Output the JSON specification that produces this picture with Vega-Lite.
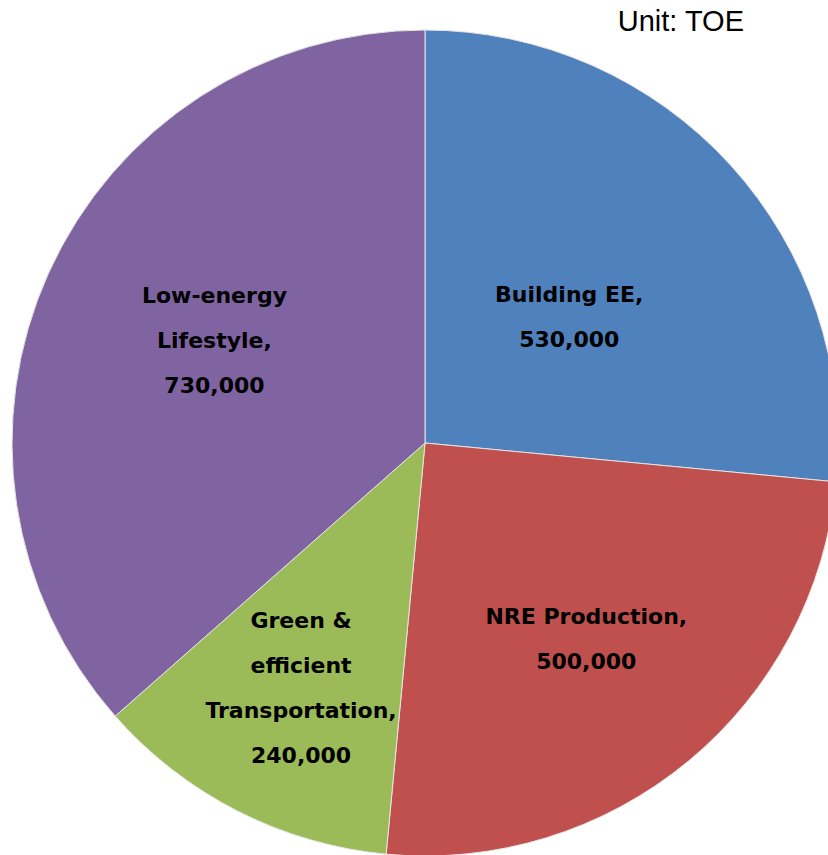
{
  "$schema": "https://vega.github.io/schema/vega-lite/v6.json",
  "width": 850,
  "height": 886,
  "autosize": {"type": "none"},
  "padding": 0,
  "background": "white",
  "view": {"stroke": null},
  "title": {
    "text": "Unit: TOE",
    "orient": "top",
    "anchor": "end",
    "frame": "group",
    "offset": -60,
    "dx": -106,
    "baseline": "alphabetic",
    "font": "Liberation Sans",
    "fontSize": 29,
    "fontWeight": "normal",
    "color": "black"
  },
  "data": {
    "values": [
      {"cat": "Building EE", "value": 530000, "order": 1, "label": "Building EE,\n530,000"},
      {"cat": "NRE Production", "value": 500000, "order": 2, "label": "NRE Production,\n500,000"},
      {"cat": "Green & efficient Transportation", "value": 240000, "order": 3, "label": "Green &\nefficient\nTransportation,\n240,000"},
      {"cat": "Low-energy Lifestyle", "value": 730000, "order": 4, "label": "Low-energy\nLifestyle,\n730,000"}
    ]
  },
  "encoding": {
    "theta": {"field": "value", "type": "quantitative", "stack": true},
    "order": {"field": "order", "type": "quantitative"}
  },
  "layer": [
    {
      "mark": {"type": "arc", "outerRadius": 413, "stroke": "#e4e4e4", "strokeWidth": 1},
      "encoding": {
        "color": {
          "field": "cat",
          "type": "nominal",
          "scale": {
            "domain": ["Building EE", "NRE Production", "Green & efficient Transportation", "Low-energy Lifestyle"],
            "range": ["#4F81BD", "#C0504D", "#9BBB59", "#8064A2"]
          },
          "legend": null
        }
      }
    },
    {
      "mark": {"type": "text", "radius": 195, "dy": -17, "font": "DejaVu Sans", "fontSize": 22, "fontWeight": "bold", "color": "black", "lineBreak": "\n", "lineHeight": 45, "align": "center", "baseline": "middle"},
      "encoding": {
        "detail": {"field": "cat", "type": "nominal"},
        "text": {"condition": {"test": "datum.cat === 'Building EE'", "field": "label"}, "value": ""}
      }
    },
    {
      "mark": {"type": "text", "radius": 253, "dy": -21, "font": "DejaVu Sans", "fontSize": 22, "fontWeight": "bold", "color": "black", "lineBreak": "\n", "lineHeight": 45, "align": "center", "baseline": "middle"},
      "encoding": {
        "detail": {"field": "cat", "type": "nominal"},
        "text": {"condition": {"test": "datum.cat === 'NRE Production'", "field": "label"}, "value": ""}
      }
    },
    {
      "mark": {"type": "text", "radius": 273, "dy": -65, "font": "DejaVu Sans", "fontSize": 22, "fontWeight": "bold", "color": "black", "lineBreak": "\n", "lineHeight": 45, "align": "center", "baseline": "middle"},
      "encoding": {
        "detail": {"field": "cat", "type": "nominal"},
        "text": {"condition": {"test": "datum.cat === 'Green & efficient Transportation'", "field": "label"}, "value": ""}
      }
    },
    {
      "mark": {"type": "text", "radius": 231, "dy": -52, "font": "DejaVu Sans", "fontSize": 22, "fontWeight": "bold", "color": "black", "lineBreak": "\n", "lineHeight": 45, "align": "center", "baseline": "middle"},
      "encoding": {
        "detail": {"field": "cat", "type": "nominal"},
        "text": {"condition": {"test": "datum.cat === 'Low-energy Lifestyle'", "field": "label"}, "value": ""}
      }
    }
  ]
}
